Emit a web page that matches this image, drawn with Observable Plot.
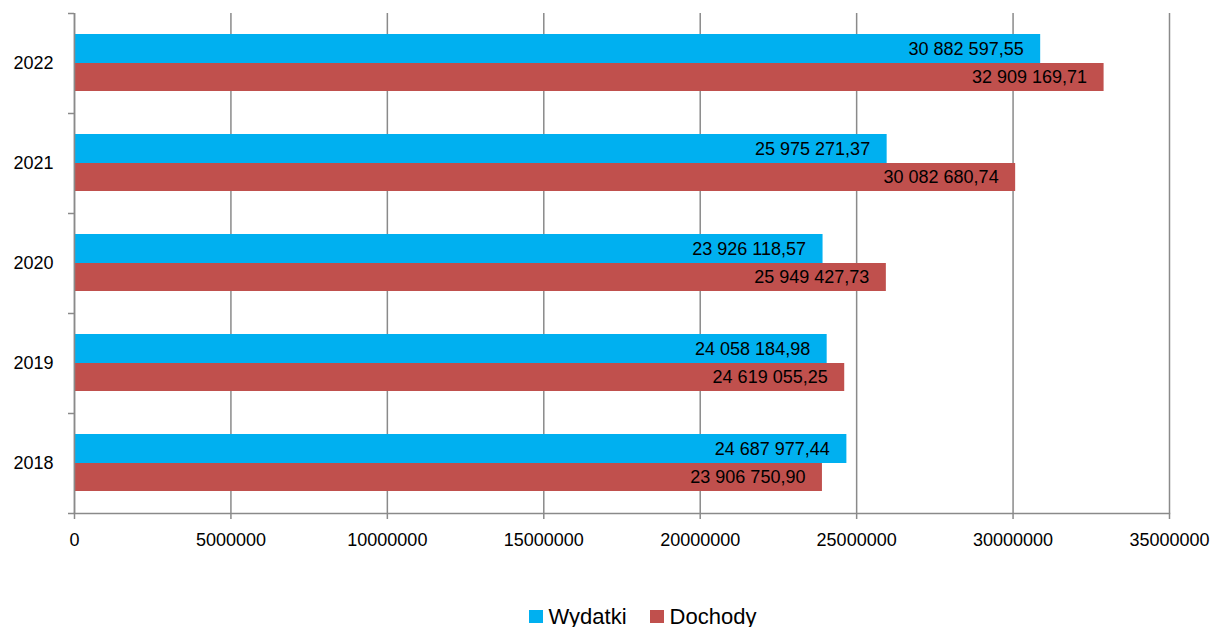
<!DOCTYPE html>
<html>
<head>
<meta charset="utf-8">
<script src="https://cdn.jsdelivr.net/npm/d3@7"></script>
<script src="https://cdn.jsdelivr.net/npm/@observablehq/plot@0.6"></script>
<style>
  body { margin: 0; background: #fff; font-family: "Liberation Sans", Arial, sans-serif; }
  #legend { display: flex; justify-content: center; align-items: center; gap: 23px; font-size: 22px; line-height: 25px; color: #000; margin-top: 14px; padding-left: 69px; }
  .item { display: flex; align-items: center; }
  .sw { width: 14px; height: 13px; margin-right: 6px; display: inline-block; }
</style>
</head>
<body>
<div id="chart"></div>
<script>
const years = ["2022", "2021", "2020", "2019", "2018"];
const wydatki = [30882597.55, 25975271.37, 23926118.57, 24058184.98, 24687977.44];
const dochody = [32909169.71, 30082680.74, 25949427.73, 24619055.25, 23906750.90];
const seriesNames = ["Wydatki", "Dochody"];
const seriesColors = ["#00B0F0", "#C0504D"];
const xTicks = [0, 5000000, 10000000, 15000000, 20000000, 25000000, 30000000, 35000000];

const data = years.map((year, i) => ({year, wydatki: wydatki[i], dochody: dochody[i]}));

function fmt(v) {
  const [intPart, dec] = v.toFixed(2).split(".");
  return intPart.replace(/\B(?=(\d{3})+(?!\d))/g, " ") + "," + dec;
}

const grid = "#8a8a8a";
const font = "Liberation Sans, Arial, sans-serif";

const plot = Plot.plot({
  width: 1216,
  height: 590,
  marginLeft: 74,
  marginRight: 47,
  marginTop: 13,
  marginBottom: 77,
  style: {fontFamily: font, fontSize: "18px", background: "#fff", color: "#000"},
  x: {domain: [0, 35000000], label: null},
  y: {domain: years, padding: 0, label: null},
  color: {domain: seriesNames, range: seriesColors},
  marks: [
    Plot.gridX(xTicks, {stroke: grid, strokeOpacity: 1, strokeWidth: 1.5}),
    Plot.barX(data, {y: "year", x: "wydatki", fill: () => "Wydatki", insetTop: 21, insetBottom: 50}),
    Plot.barX(data, {y: "year", x: "dochody", fill: () => "Dochody", insetTop: 50, insetBottom: 22}),
    Plot.text(data, {y: "year", x: "wydatki", text: d => fmt(d.wydatki), textAnchor: "end", dx: -17, dy: -14.5, fill: "#000", fontSize: 18}),
    Plot.text(data, {y: "year", x: "dochody", text: d => fmt(d.dochody), textAnchor: "end", dx: -17, dy: 14, fill: "#000", fontSize: 18}),
    Plot.ruleX([0], {stroke: grid, strokeWidth: 1.5}),
    Plot.frame({anchor: "bottom", stroke: grid, strokeWidth: 1.5}),
    Plot.axisY({tickSize: 6, text: null, dy: -50, stroke: grid, strokeWidth: 1.5, label: null}),
    Plot.axisY({ticks: ["2018"], tickSize: 6, text: null, dy: 50, stroke: grid, strokeWidth: 1.5, label: null}),
    Plot.axisY({tickSize: 0, tickPadding: 21, fontSize: 18, label: null}),
    Plot.axisX({ticks: xTicks, tickFormat: d => String(d), tickSize: 6, tickPadding: 14, stroke: grid, strokeWidth: 1.5, fontSize: 18, label: null})
  ]
});
document.getElementById("chart").appendChild(plot);

const color = plot.scale("color");
const legend = document.createElement("div");
legend.id = "legend";
seriesNames.forEach(name => {
  const item = document.createElement("span");
  item.className = "item";
  const sw = document.createElement("span");
  sw.className = "sw";
  sw.style.background = color.apply(name);
  item.appendChild(sw);
  item.appendChild(document.createTextNode(name));
  legend.appendChild(item);
});
document.getElementById("chart").appendChild(legend);
</script>
</body>
</html>
